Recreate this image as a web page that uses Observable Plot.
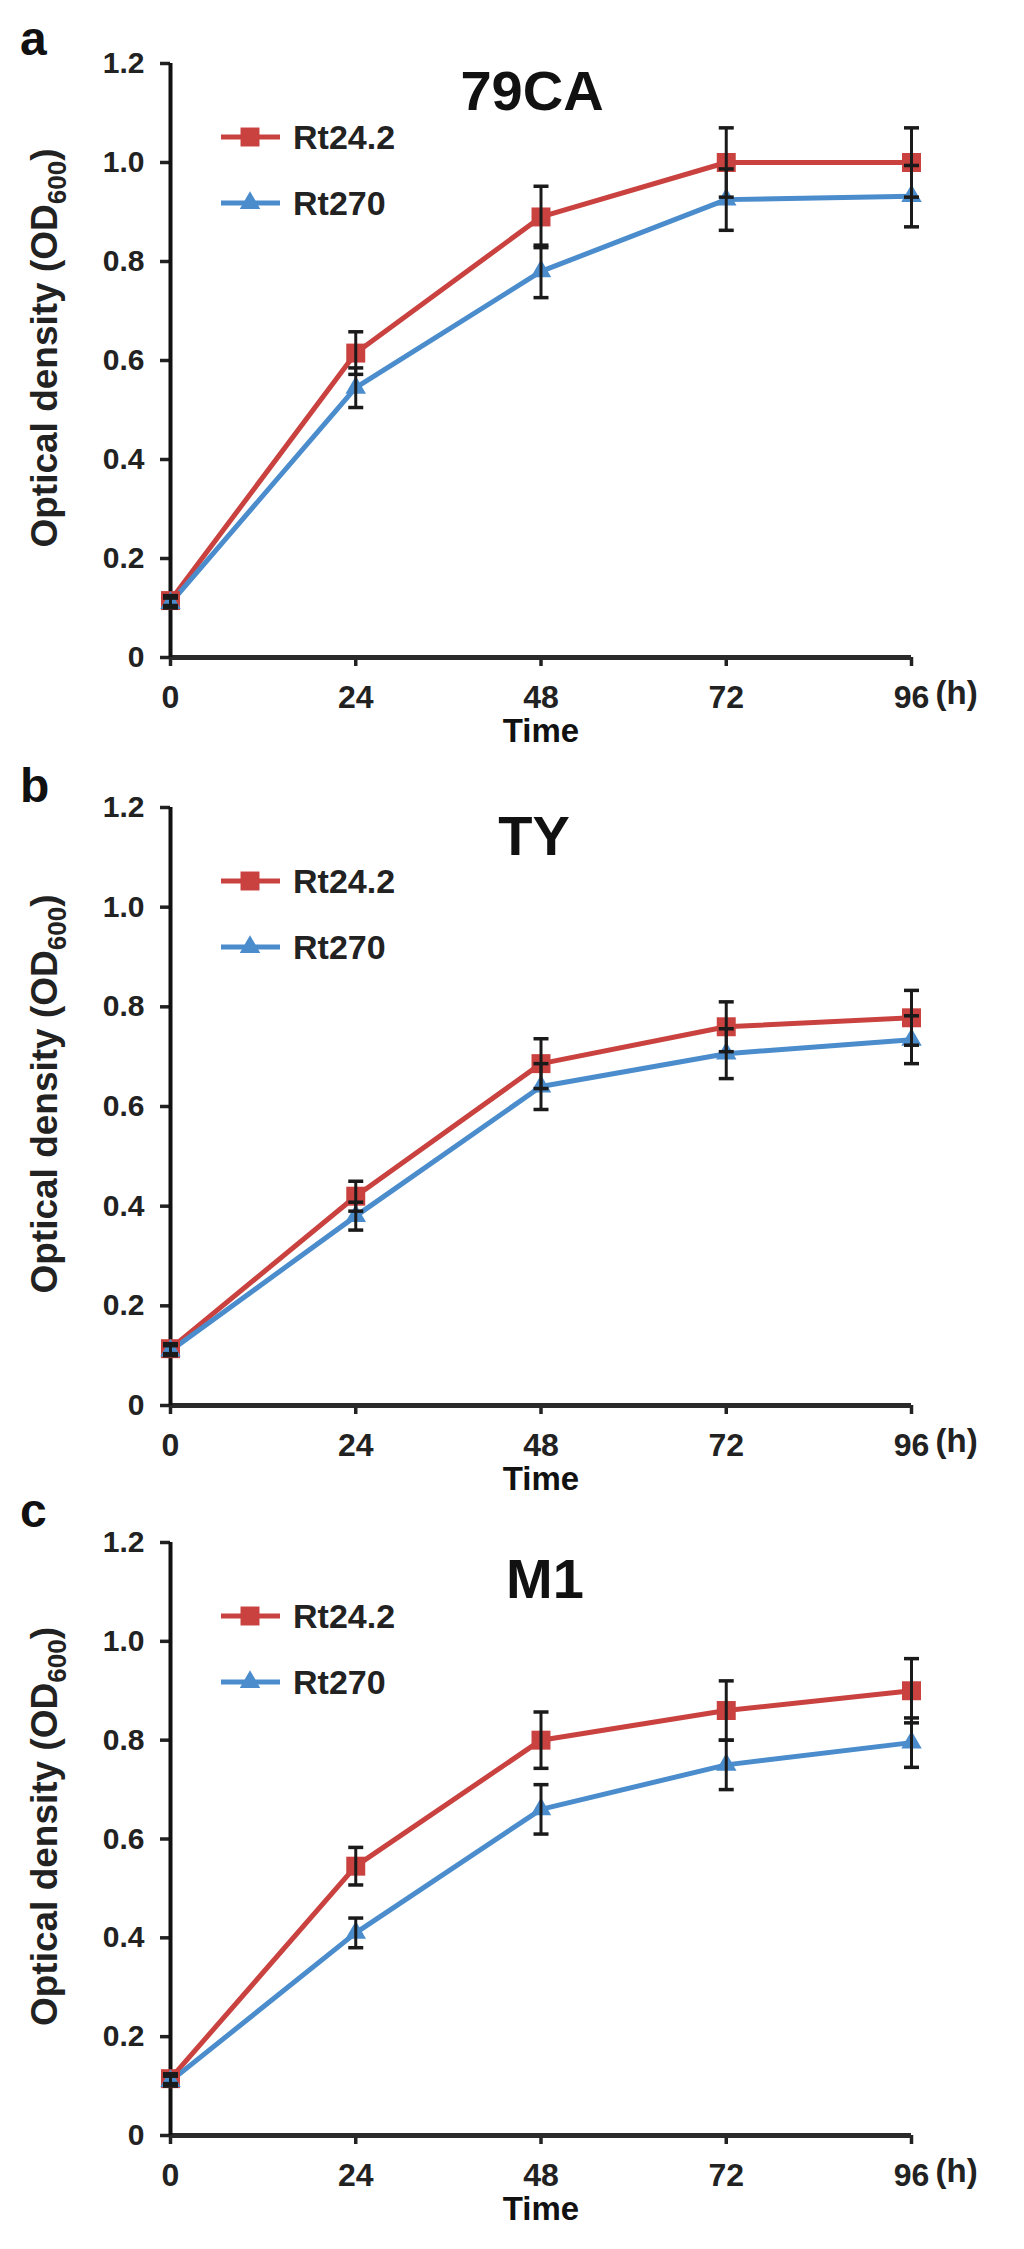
<!DOCTYPE html>
<html><head><meta charset="utf-8">
<script src="https://cdn.jsdelivr.net/npm/d3@7"></script>
<script src="https://cdn.jsdelivr.net/npm/@observablehq/plot@0.6"></script>
<style>
body{margin:0;background:#fff;}
#root svg{display:block;}
</style>
</head><body><div id="root"></div>
<script>
// ---- data ----
const time = [0, 24, 48, 72, 96];
const strains = ["Rt24.2", "Rt270"];
const panelLetters = ["a", "b", "c"];
const media = ["79CA", "TY", "M1"];
const yTicks = [0, 0.2, 0.4, 0.6, 0.8, 1.0, 1.2];
const xTicks = [0, 24, 48, 72, 96];

const od79CA_Rt242 = [0.115, 0.615, 0.89, 1.00, 1.00];
const err79CA_Rt242 = [0.01, 0.043, 0.062, 0.07, 0.07];
const od79CA_Rt270 = [0.11, 0.545, 0.78, 0.925, 0.932];
const err79CA_Rt270 = [0.01, 0.04, 0.053, 0.062, 0.062];

const odTY_Rt242 = [0.114, 0.42, 0.686, 0.76, 0.778];
const errTY_Rt242 = [0.01, 0.03, 0.05, 0.05, 0.055];
const odTY_Rt270 = [0.11, 0.38, 0.64, 0.706, 0.734];
const errTY_Rt270 = [0.01, 0.028, 0.046, 0.05, 0.048];

const odM1_Rt242 = [0.115, 0.545, 0.80, 0.86, 0.90];
const errM1_Rt242 = [0.01, 0.038, 0.057, 0.06, 0.065];
const odM1_Rt270 = [0.11, 0.41, 0.66, 0.75, 0.795];
const errM1_Rt270 = [0.01, 0.03, 0.05, 0.05, 0.05];

const seriesOD = [[od79CA_Rt242, od79CA_Rt270], [odTY_Rt242, odTY_Rt270], [odM1_Rt242, odM1_Rt270]];
const seriesErr = [[err79CA_Rt242, err79CA_Rt270], [errTY_Rt242, errTY_Rt270], [errM1_Rt242, errM1_Rt270]];

// ---- style / layout ----
const colors = ["#c9423f", "#4a8ccc"];
const markerR = [10.7, 7.6];
const FONT = "'Liberation Sans', Arial, Helvetica, sans-serif";
const layout = [
  {height: 745, mt: 63, mb: 88, letterDy: -8, titleDx: -8, titleDy: 47},
  {height: 745, mt: 62, mb: 85, letterDy: -5, titleDx: -6, titleDy: 48},
  {height: 759, mt: 52, mb: 114, letterDy: -15, titleDx: 5, titleDy: 56}
];

const capSymbol = {draw(ctx) { ctx.moveTo(-7.5, 0); ctx.lineTo(7.5, 0); }};
const root = document.getElementById("root");

panelLetters.forEach((letter, i) => {
  const rows = [];
  strains.forEach((s, j) => time.forEach((t, k) => rows.push({time: t, strain: s, od: seriesOD[i][j][k], err: seriesErr[i][j][k]})));
  const L = layout[i];
  const svg = Plot.plot({
    width: 1024, height: L.height,
    marginTop: L.mt, marginBottom: L.mb, marginLeft: 170, marginRight: 113,
    style: {fontFamily: FONT, background: "transparent", overflow: "visible", color: "#222"},
    x: {domain: [0, 96]},
    y: {domain: [0, 1.2]},
    color: {domain: strains, range: colors},
    symbol: {domain: strains, range: ["square", "triangle"]},
    marks: [
      Plot.axisY({ticks: yTicks, tickFormat: d => d === 0 ? "0" : d.toFixed(1), tickSize: 10, tickPadding: 16,
        fontSize: 30, fontWeight: "bold", strokeWidth: 3.5, label: null}),
      Plot.axisX({ticks: xTicks, tickFormat: d => String(d), tickSize: 9, tickPadding: 19,
        fontSize: 32, fontWeight: "bold", strokeWidth: 3.5, label: null}),
      Plot.text(["(h)"], {x: 96, frameAnchor: "bottom", dx: 24, dy: 46, textAnchor: "start", lineAnchor: "bottom",
        fontSize: 33, fontWeight: "bold", fill: "#222"}),
      Plot.text(["Time"], {frameAnchor: "bottom", dy: 84, lineAnchor: "bottom", fontSize: 33, fontWeight: "bold", fill: "#111"}),
      Plot.ruleY([0], {x1: 0, x2: 96, stroke: "#2a2a2a", strokeWidth: 5}),
      Plot.ruleX([0], {y1: 0, y2: 1.2, stroke: "#111", strokeWidth: 4}),
      Plot.line(rows, {x: "time", y: "od", z: "strain", stroke: "strain", strokeWidth: 5}),
      ...strains.map((s, j) => Plot.dot(rows.filter(d => d.strain === s),
        {x: "time", y: "od", symbol: "strain", fill: "strain", r: markerR[j]})),
      Plot.ruleX(rows, {x: "time", y1: d => d.od - d.err, y2: d => d.od + d.err, stroke: "#1a1a1a", strokeWidth: 3}),
      Plot.dot(rows, {x: "time", y: d => d.od + d.err, symbol: capSymbol, stroke: "#1a1a1a", strokeWidth: 3.5, fill: "none"}),
      Plot.dot(rows, {x: "time", y: d => d.od - d.err, symbol: capSymbol, stroke: "#1a1a1a", strokeWidth: 3.5, fill: "none"})
    ]
  });
  root.appendChild(svg);

  const g = d3.select(svg).append("g").attr("font-family", FONT).attr("font-weight", "bold");
  const top = L.mt, bottom = L.height - L.mb;
  // panel letter
  g.append("text").attr("x", 20).attr("y", top + L.letterDy).attr("text-anchor", "start")
    .attr("font-size", 48).attr("fill", "#111").text(letter);
  // medium title
  g.append("text").attr("x", 540 + L.titleDx).attr("y", top + L.titleDy).attr("text-anchor", "middle")
    .attr("font-size", 56).attr("fill", "#111").text(media[i]);
  // legend
  strains.forEach((s, j) => {
    const ly = top + (j === 0 ? 74 : 140);
    g.append("line").attr("x1", 221).attr("x2", 280).attr("y1", ly).attr("y2", ly)
      .attr("stroke", colors[j]).attr("stroke-width", 5);
    g.append("path").attr("transform", `translate(250,${ly})`)
      .attr("d", d3.symbol(j === 0 ? d3.symbolSquare : d3.symbolTriangle, markerR[j] * markerR[j] * Math.PI)())
      .attr("fill", colors[j]);
    g.append("text").attr("x", 293).attr("y", ly).attr("dy", "0.36em").attr("text-anchor", "start")
      .attr("font-size", 34).attr("fill", "#222").text(s);
  });
  // y-axis title with subscript
  const yl = g.append("text").attr("transform", `translate(57,${(top + bottom) / 2 - 12}) rotate(-90)`)
    .attr("text-anchor", "middle").attr("font-size", 37).attr("fill", "#222");
  yl.append("tspan").text("Optical density (OD");
  yl.append("tspan").attr("font-size", 26).attr("dy", 9).text("600");
  yl.append("tspan").attr("dy", -9).text(")");
});
</script>
</body></html>
